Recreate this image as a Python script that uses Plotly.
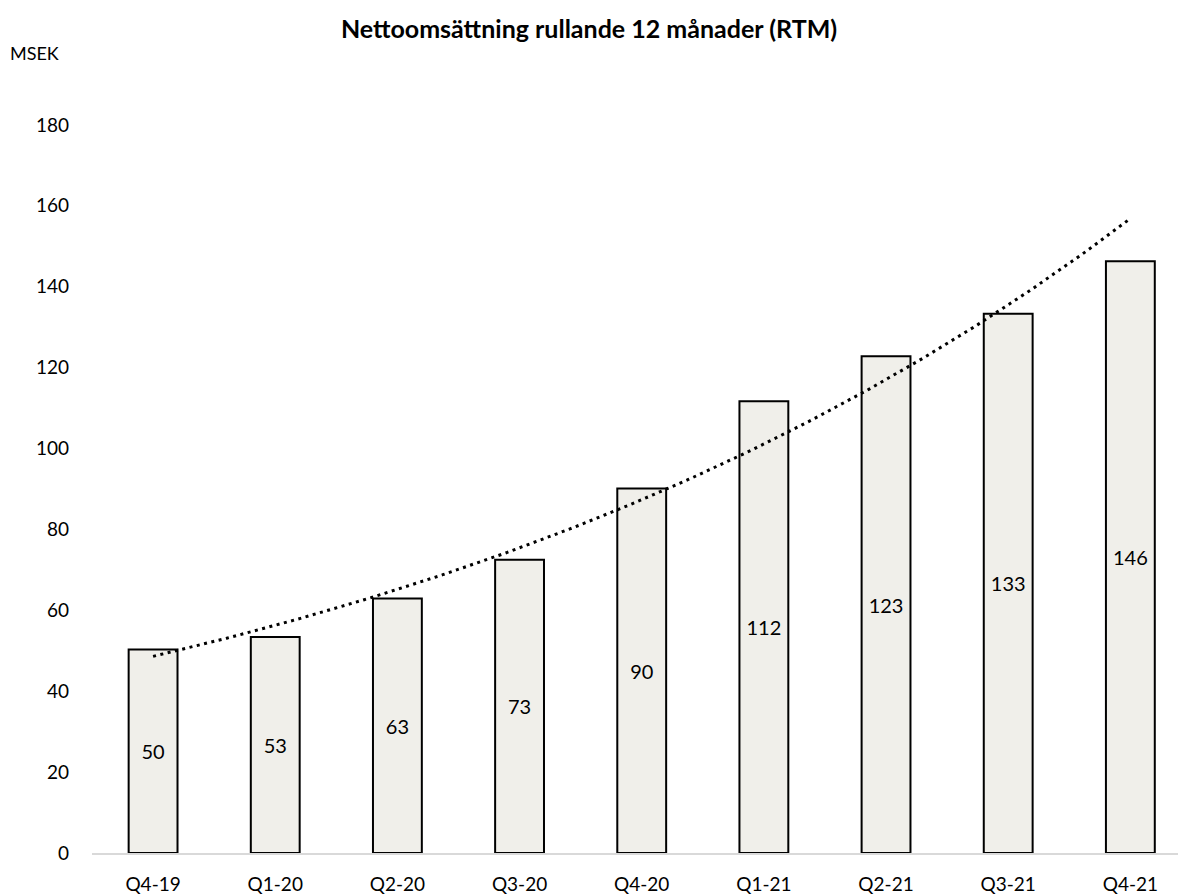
import numpy as np
import plotly.graph_objects as go

categories = ["Q4-19", "Q1-20", "Q2-20", "Q3-20", "Q4-20", "Q1-21", "Q2-21", "Q3-21", "Q4-21"]
values = [50.3, 53.4, 62.9, 72.5, 90.1, 111.7, 122.8, 133.3, 146.3]
labels = ["50", "53", "63", "73", "90", "112", "123", "133", "146"]
y_ticks = [0, 20, 40, 60, 80, 100, 120, 140, 160, 180]

FONT = "Lato, 'Open Sans', sans-serif"

# exponential trendline (Excel-style) fitted to the bar values
xi = np.arange(len(values))
b, a = np.polyfit(xi, np.log(values), 1)
xt = np.linspace(0, len(values) - 1, 200)
yt = np.exp(a + b * xt)

fig = go.Figure()
fig.add_trace(go.Bar(
    x=xi, y=values, width=0.4,
    marker=dict(color="#F0EFEA", line=dict(color="#000000", width=2)),
    text=labels, textposition="inside", insidetextanchor="middle",
    textfont=dict(family=FONT, size=20, color="#000000"),
    textangle=0, hoverinfo="skip", showlegend=False,
))
fig.add_trace(go.Scatter(
    x=xt, y=yt, mode="lines",
    line=dict(color="#000000", width=3, dash="3px,4.5px"),
    hoverinfo="skip", showlegend=False,
))

fig.update_layout(
    width=1178, height=895,
    margin=dict(l=92, r=0, t=44, b=40),
    paper_bgcolor="white", plot_bgcolor="white",
    font=dict(family=FONT, size=19, color="#000000"),
    title=dict(text="<b>Nettoomsättning rullande 12 månader (RTM)</b>",
               x=0.5, xref="container", xanchor="center",
               y=1 - 29 / 895, yref="container", yanchor="middle",
               font=dict(family=FONT, size=25, color="#000000")),
    uniformtext=dict(mode=False),
    annotations=[dict(text="MSEK", xref="paper", yref="paper",
                      x=-84 / 1086, y=1 + (44 - 53) / 811,
                      xanchor="left", yanchor="middle", showarrow=False,
                      font=dict(family=FONT, size=18, color="#000000"))],
)
fig.update_xaxes(
    range=[-0.5, 8.39], tickmode="array", tickvals=list(xi), ticktext=categories,
    showgrid=False, zeroline=False, showline=True, linecolor="#D9D9D9", linewidth=2,
    ticks="", ticklabelstandoff=13, tickfont=dict(family=FONT, size=19),
)
fig.update_yaxes(
    range=[0, 200], tickmode="array", tickvals=y_ticks,
    showgrid=False, zeroline=False, showline=False, ticks="",
    ticklabelstandoff=22, tickfont=dict(family=FONT, size=19),
)

fig.write_html("out.html", config={"displayModeBar": False},
               post_script="document.body.style.margin='0';document.body.style.overflow='hidden';")
